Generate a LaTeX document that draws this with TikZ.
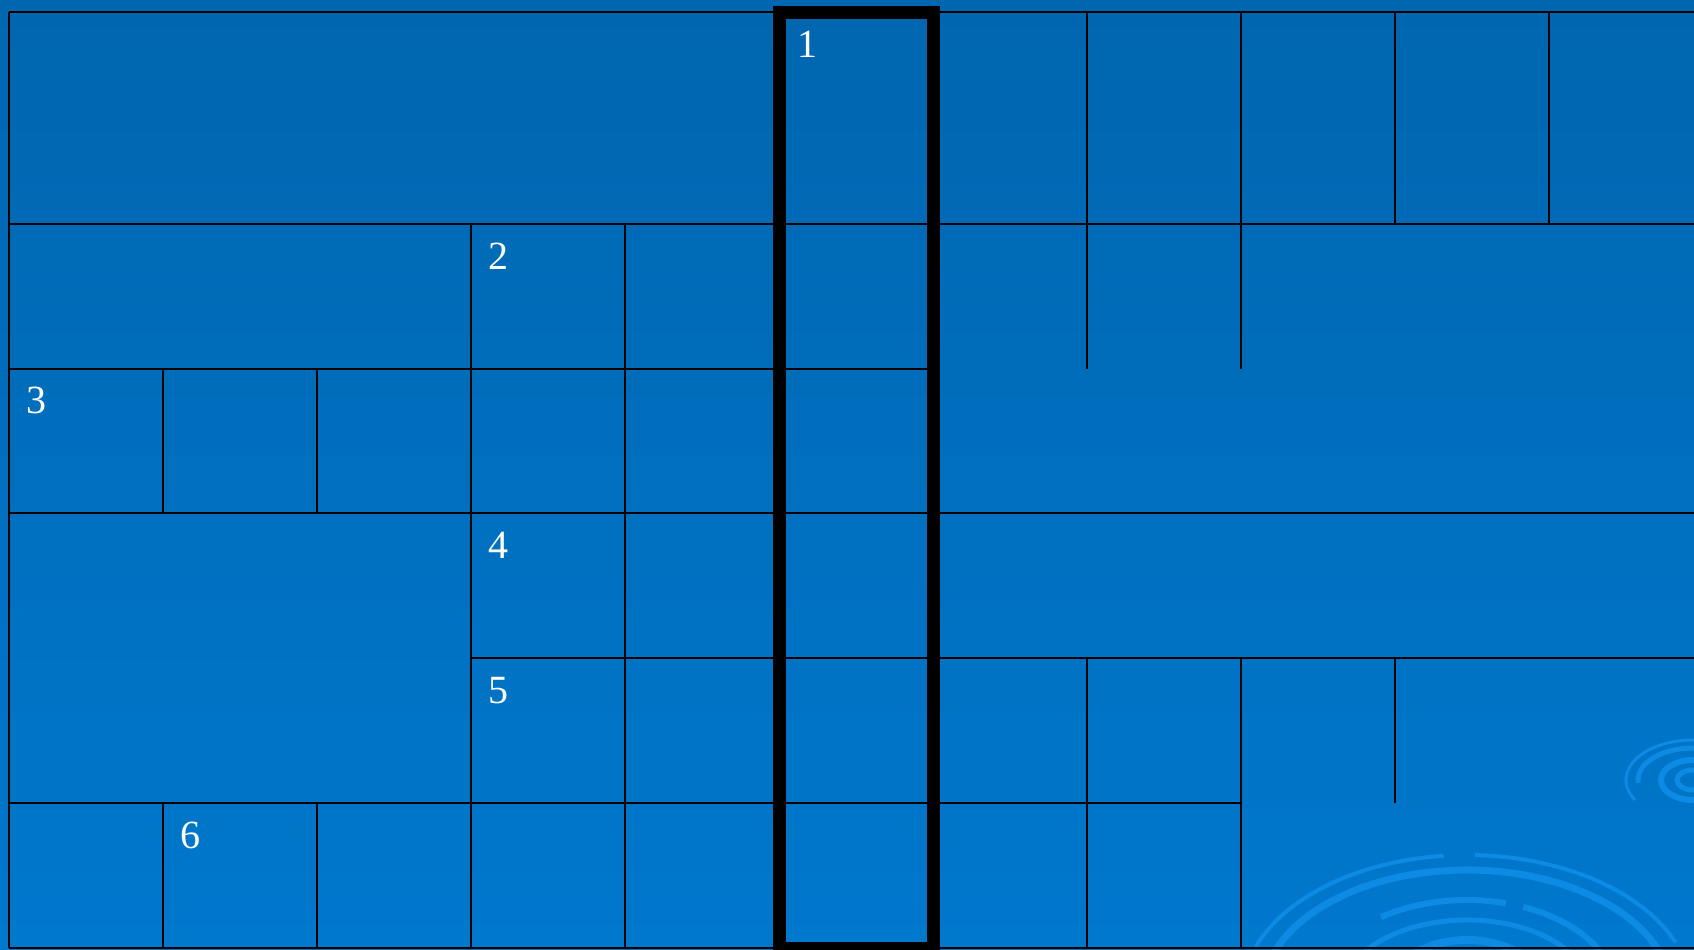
\documentclass[tikz,border=0pt]{standalone}
\usepackage{fontspec}
\setmainfont{Liberation Serif}
\usetikzlibrary{positioning, calc}

\definecolor{bgtop}{RGB}{0,102,175}
\definecolor{bgbottom}{RGB}{0,120,205}
\definecolor{ripplecol}{RGB}{12,138,228}

\begin{document}
\begin{tikzpicture}[
    x=1pt, y=-1pt,
    grid/.style = {line width=2pt, black},
    frame/.style = {line width=13pt, black},
    num/.style = {
        anchor=base west,
        inner sep=0pt,
        text=white,
        font=\fontsize{40}{40}\selectfont
    },
    ripple/.style = {line width=#1, ripplecol, line cap=butt},
    ripple/.default = 5pt
]

\useasboundingbox (0,0) rectangle (1694,950);
\clip (0,0) rectangle (1694,950);

%% Background
\shade[top color=bgtop, bottom color=bgbottom] (0,0) rectangle (1694,950);

%% Ripples, bottom right
\draw[ripple=4pt] (1467,995) ++(200:225 and 140) arc[start angle=200, end angle=264, x radius=225, y radius=140];
\draw[ripple=4pt] (1467,995) ++(272:225 and 140) arc[start angle=272, end angle=338, x radius=225, y radius=140];
\draw[ripple=7pt] (1467,995) ++(196:205 and 125) arc[start angle=196, end angle=344, x radius=205, y radius=125];
\draw[ripple=6pt] (1467,995) ++(235:150 and 95) arc[start angle=235, end angle=285, x radius=150, y radius=95];
\draw[ripple=6pt] (1467,995) ++(292:150 and 95) arc[start angle=292, end angle=335, x radius=150, y radius=95];
\draw[ripple=5pt] (1467,995) ++(205:125 and 75) arc[start angle=205, end angle=330, x radius=125, y radius=75];
\draw[ripple=8pt] (1467,995) ++(220:80 and 55) arc[start angle=220, end angle=320, x radius=80, y radius=55];
\draw[ripple=3pt] (1693,780) ++(150:67 and 40) arc[start angle=150, end angle=290, x radius=67, y radius=40];
\draw[ripple=5pt] (1693,780) ++(175:55 and 32) arc[start angle=175, end angle=300, x radius=55, y radius=32];
\draw[ripple=6pt] (1693,780) ++(0:32 and 20) arc[start angle=0, end angle=360, x radius=32, y radius=20];
\draw[ripple=5pt] (1693,780) ++(0:16 and 10) arc[start angle=0, end angle=360, x radius=16, y radius=10];

%% Grid points
\foreach \r/\yy in {0/12.3, 1/224, 2/368.5, 3/513, 4/658, 5/803, 6/948}
    \foreach \c in {0,...,11}
        \coordinate (p\c-\r) at (9+\c*154.0, \yy);

%% Horizontal lines
\draw[grid] (p0-0) -- (p11-0);
\draw[grid] (p0-1) -- (p11-1);
\draw[grid] (p0-2) -- (p6-2);
\draw[grid] (p0-3) -- (p11-3);
\draw[grid] (p3-4) -- (p11-4);
\draw[grid] (p0-5) -- (p8-5);
\draw[grid] (p0-6) -- (p11-6);

%% Vertical lines
\draw[grid] (p0-0) -- (p0-6);
\draw[grid] (p1-2) -- (p1-3);
\draw[grid] (p1-5) -- (p1-6);
\draw[grid] (p2-2) -- (p2-3);
\draw[grid] (p2-5) -- (p2-6);
\draw[grid] (p3-1) -- (p3-6);
\draw[grid] (p4-1) -- (p4-6);
\draw[grid] (p7-0) -- (p7-2);
\draw[grid] (p7-4) -- (p7-6);
\draw[grid] (p8-0) -- (p8-2);
\draw[grid] (p8-4) -- (p8-6);
\draw[grid] (p9-0) -- (p9-1);
\draw[grid] (p9-4) -- (p9-5);
\draw[grid] (p10-0) -- (p10-1);

%% Key column
\draw[frame] (p5-0) rectangle (p6-6);

%% Clue numbers
\node[num] (n1) at ($(p5-0)+(18,45)$) {1};
\node[num] (n2) at ($(p3-1)+(17,45)$) {2};
\node[num] (n3) at ($(p0-2)+(17,45)$) {3};
\node[num] (n4) at ($(p3-3)+(17,45)$) {4};
\node[num] (n5) at ($(p3-4)+(17,45)$) {5};
\node[num] (n6) at ($(p1-5)+(17,45)$) {6};

\end{tikzpicture}
\end{document}
